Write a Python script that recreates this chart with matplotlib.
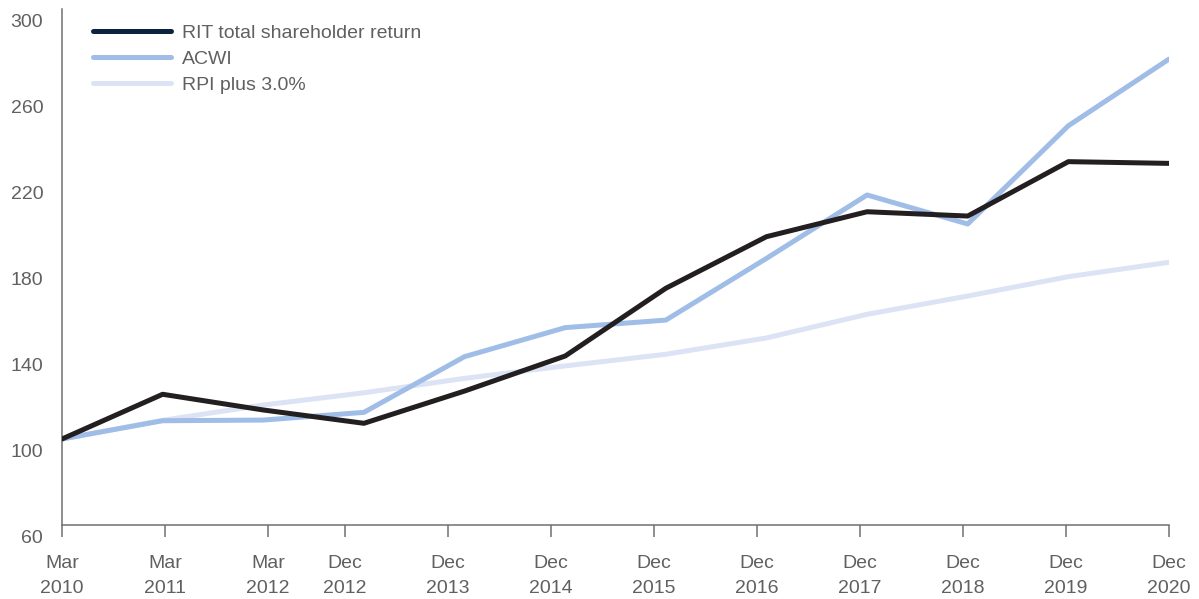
import numpy as np
import matplotlib
matplotlib.use("Agg")
import matplotlib.pyplot as plt
from matplotlib.transforms import ScaledTranslation

# data points (evenly spaced, one per reporting date)
periods = ["Mar 2010", "Mar 2011", "Mar 2012", "Dec 2012", "Dec 2013", "Dec 2014",
           "Dec 2015", "Dec 2016", "Dec 2017", "Dec 2018", "Dec 2019", "Dec 2020"]
rit_tsr = [100, 120.8, 113.5, 107.3, 122.3, 138.6, 170.1, 194.1, 205.7, 203.7, 229.0, 228.2]
acwi = [100, 108.5, 108.8, 112.4, 138.3, 151.8, 155.3, 184.0, 213.5, 200.0, 245.7, 276.7]
rpi_plus3 = [100, 108.7, 115.8, 121.5, 128.2, 134.0, 139.4, 147.0, 158.0, 166.5, 175.5, 182.2]

# x tick labels sit at calendar positions (months after Mar 2010)
tick_months = [0, 12, 24, 33, 45, 57, 69, 81, 93, 105, 117, 129]
tick_labels = ["Mar\n2010", "Mar\n2011", "Mar\n2012", "Dec\n2012", "Dec\n2013", "Dec\n2014",
               "Dec\n2015", "Dec\n2016", "Dec\n2017", "Dec\n2018", "Dec\n2019", "Dec\n2020"]
y_ticks = [60, 100, 140, 180, 220, 260, 300]

plt.rcParams['font.family'] = ['Liberation Sans', 'DejaVu Sans']
text_col = '#606060'
axis_col = '#707070'
fs = 14

fig = plt.figure(figsize=(11.99, 5.99), dpi=100)
ax = fig.add_axes([62 / 1199, 1 - 525 / 599, (1169 - 62) / 1199, (525 - 9) / 599])

x = np.arange(len(periods))
ax.plot(x, rpi_plus3, color='#dbe3f4', lw=3.6, solid_capstyle='round', label='RPI plus 3.0%', zorder=2)
ax.plot(x, acwi, color='#9fbde6', lw=3.6, solid_capstyle='round', label='ACWI', zorder=3)
ax.plot(x, rit_tsr, color='#231f20', lw=3.6, solid_capstyle='round',
        label='RIT total shareholder return', zorder=4)

ax.set_xlim(0, len(periods) - 1)
ax.set_ylim(60, 300)

scale = (len(periods) - 1) / tick_months[-1]
ax.set_xticks([m * scale for m in tick_months])
ax.set_xticklabels(tick_labels, linespacing=1.58)
ax.set_yticks(y_ticks)
ax.set_yticklabels([str(v) for v in y_ticks])

for s in ['top', 'right']:
    ax.spines[s].set_visible(False)
for s in ['left', 'bottom']:
    ax.spines[s].set_color(axis_col)
    ax.spines[s].set_linewidth(1.1)

ax.tick_params(axis='x', direction='out', length=8.6, width=1.1, color=axis_col,
               labelsize=fs, labelcolor=text_col, pad=13)
ax.tick_params(axis='y', length=0, labelsize=fs, labelcolor=text_col, pad=13.5)

# y labels sit a bit below their values in the original
off = ScaledTranslation(0, -8.4 / 72, fig.dpi_scale_trans)
for lab in ax.get_yticklabels():
    lab.set_transform(lab.get_transform() + off)

handles, labels = ax.get_legend_handles_labels()
order = [2, 1, 0]
leg = ax.legend([handles[i] for i in order], [labels[i] for i in order],
                loc='upper left', bbox_to_anchor=(31 / 1107, 1 - 15 / 516),
                frameon=False, fontsize=fs, handlelength=4.0, handletextpad=0.6,
                labelspacing=0.43, borderaxespad=0, borderpad=0)
for t in leg.get_texts():
    t.set_color(text_col)
leg.get_lines()[0].set_color('#0c2340')

fig.savefig('out.png', dpi=100)
